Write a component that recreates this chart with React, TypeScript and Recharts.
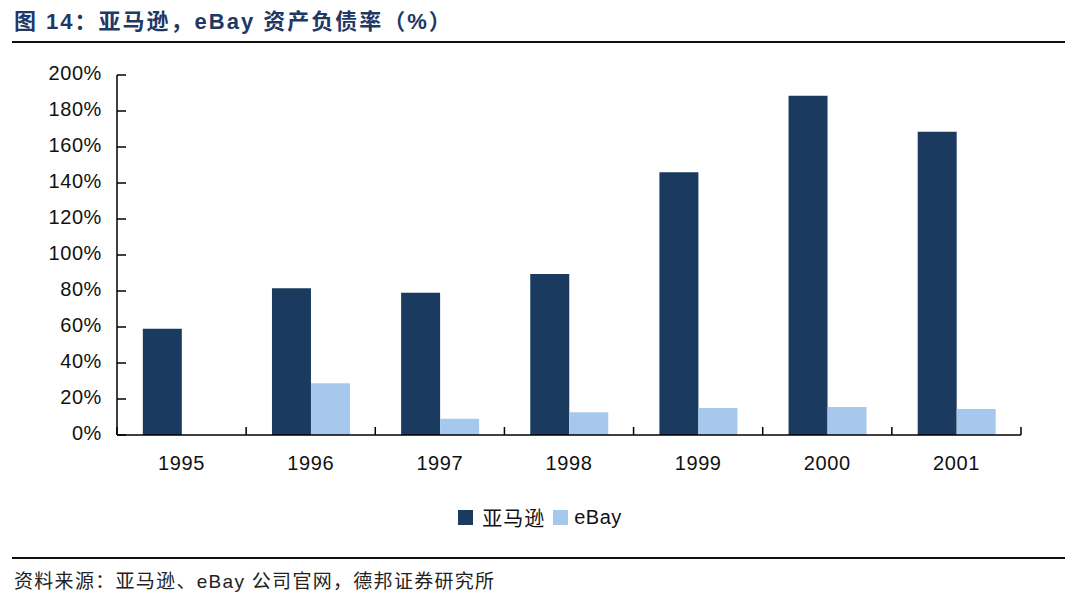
import React from 'react';
import { BarChart, Bar, XAxis, YAxis } from 'recharts';

const years = ['1995', '1996', '1997', '1998', '1999', '2000', '2001'];
const amazon = [59, 81.5, 79, 89.5, 146, 188.5, 168.5];
const ebay = [null, 28.8, 9, 12.7, 15, 15.5, 14.4];
const yTicks = [0, 20, 40, 60, 80, 100, 120, 140, 160, 180, 200];

const DARK = '#1B3A5F';
const LIGHT = '#A6C8EC';
const LATIN = '"Liberation Sans", Arial, sans-serif';
const CJK = '"Liberation Sans", "Noto Sans CJK SC", sans-serif';

const data = years.map((y, i) => ({ year: y, amazon: amazon[i], ebay: ebay[i] }));

// tick lines sit on category boundaries, pointing up into the plot
const XTick = (props: any) => {
  const { x, y, payload, index } = props;
  const half = payload.offset || 0;
  return (
    <g>
      <line x1={x - half} x2={x - half} y1={y} y2={y - 8} stroke="#000" strokeWidth={1.5} />
      {index === years.length - 1 && (
        <line x1={x + half} x2={x + half} y1={y} y2={y - 8} stroke="#000" strokeWidth={1.5} />
      )}
      <text x={x} y={y + 30} textAnchor="middle" dominantBaseline="middle" fontSize={20} letterSpacing={0.6} fill="#111" fontFamily={LATIN}>
        {payload.value}
      </text>
    </g>
  );
};

const YTick = (props: any) => {
  const { x, y, payload } = props;
  return (
    <g>
      <line x1={x} x2={x + 9} y1={y} y2={y} stroke="#000" strokeWidth={1.5} />
      <text x={x - 15} y={y} textAnchor="end" dominantBaseline="middle" fontSize={20} letterSpacing={0.6} fill="#111" fontFamily={LATIN}>
        {payload.value + '%'}
      </text>
    </g>
  );
};

const App = () => {
  return (
    <div style={{ position: 'absolute', left: 0, top: 0, width: 1080, height: 595, background: '#fff', fontFamily: CJK }}>
      <div style={{ position: 'absolute', left: 14, top: 3, fontSize: 22, letterSpacing: 2, fontWeight: 'bold', color: '#1F3864', whiteSpace: 'nowrap' }}>
        图 14：亚马逊，eBay 资产负债率（%）
      </div>
      <div style={{ position: 'absolute', left: 12, top: 41, width: 1053, height: 2, background: '#111' }} />

      <div style={{ position: 'absolute', left: 0, top: 0 }}>
        <BarChart
          width={1080}
          height={496}
          data={data}
          margin={{ top: 75, right: 59, bottom: 0, left: 0 }}
          barCategoryGap="20%"
          barGap={0}
        >
          <XAxis
            dataKey="year"
            height={61}
            tickLine={false}
            tickSize={0}
            tickMargin={0}
            axisLine={{ stroke: '#000', strokeWidth: 1.5 }}
            tick={<XTick />}
            interval={0}
          />
          <YAxis
            width={117}
            domain={[0, 200]}
            ticks={yTicks}
            tickLine={false}
            tickSize={0}
            tickMargin={0}
            axisLine={{ stroke: '#000', strokeWidth: 1.5 }}
            tick={<YTick />}
            interval={0}
          />
          <Bar dataKey="amazon" fill={DARK} isAnimationActive={false} />
          <Bar dataKey="ebay" fill={LIGHT} isAnimationActive={false} />
        </BarChart>
      </div>

      <div style={{ position: 'absolute', left: 0, width: 1080, top: 503, display: 'flex', justifyContent: 'center', alignItems: 'center', fontSize: 20, color: '#111' }}>
        <span style={{ display: 'inline-block', width: 15, height: 15, background: DARK, marginRight: 9 }} />
        <span style={{ marginRight: 8, letterSpacing: 1 }}>亚马逊</span>
        <span style={{ display: 'inline-block', width: 15, height: 15, background: LIGHT, marginRight: 6 }} />
        <span style={{ fontFamily: LATIN, letterSpacing: 0.5 }}>eBay</span>
      </div>

      <div style={{ position: 'absolute', left: 12, top: 557, width: 1053, height: 2, background: '#111' }} />
      <div style={{ position: 'absolute', left: 14, top: 566, fontSize: 19, letterSpacing: 1.3, color: '#222', whiteSpace: 'nowrap' }}>
        资料来源：亚马逊、eBay 公司官网，德邦证券研究所
      </div>
    </div>
  );
};

export default App;
